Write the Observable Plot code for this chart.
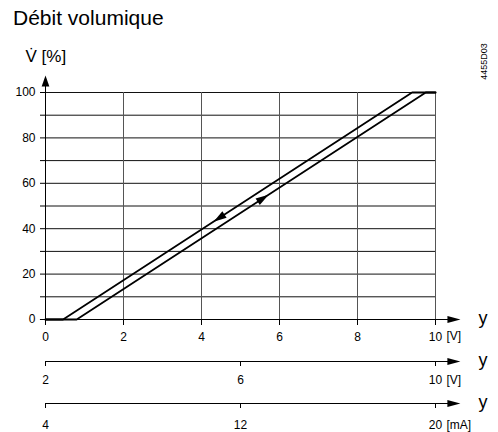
<!DOCTYPE html>
<html><head><meta charset="utf-8">
<script src="https://cdn.jsdelivr.net/npm/d3@7"></script>
<script src="https://cdn.jsdelivr.net/npm/@observablehq/plot@0.6"></script>
<style>
body{margin:0;background:#fff;font-family:"Liberation Sans",Arial,sans-serif;}
#wrap{position:relative;width:498px;height:432px;overflow:hidden;background:#fff;}
#title{position:absolute;left:13px;top:7px;font-size:21px;line-height:21px;color:#000;white-space:nowrap;}
.pl{position:absolute;left:0;}
</style></head><body>
<div id="wrap"><div id="title"></div></div>
<script>
// ---- texts
const titleText = "Débit volumique";
const yLabel = "V̇ [%]";
const docCode = "4455D03";
const axisName = "y";
// ---- main scale 0..10 V
const xTicks = [0, 2, 4, 6, 8, 10];
const xUnit = "[V]";
const yTicks = [0, 10, 20, 30, 40, 50, 60, 70, 80, 90, 100];
const yLabelTicks = [0, 20, 40, 60, 80, 100];
const vGrid = [2, 4, 6, 8, 10];
const hGrid = [10, 20, 30, 40, 50, 60, 70, 80, 90, 100];
// ---- hysteresis curves (signal in V, flow in %)
const openX = [0, 0.8, 9.75, 10];
const openY = [0, 0, 100, 100];
const closeX = [0, 0.45, 9.4, 10];
const closeY = [0, 0, 100, 100];
// ---- direction arrows on the curves
const arrowX = [5.72, 4.31];
const arrowY = [55, 43.1];
const arrowDeg = [-33, 147];
// ---- secondary scales
const v2Domain = [2, 10];
const v2Ticks = [2, 6, 10];
const v2Unit = "[V]";
const mADomain = [4, 20];
const mATicks = [4, 12, 20];
const mAUnit = "[mA]";
// ---- axis extents (arrow tips)
const mainXEnd = 10.64, v2End = 10.51, mAEnd = 21.02, yEnd = 107.5, yStart = -2.6, xStart = -0.13;

document.getElementById("title").textContent = titleText;

const font = '"Liberation Sans", Arial, sans-serif';
function arrowHead(deg, ratio = 0.55) {
  const a = deg * Math.PI / 180, c = Math.cos(a), s = Math.sin(a);
  return {draw(ctx, size) {
    const r = Math.sqrt(size / Math.PI), L = 2 * r, W = ratio * r;
    [[0, 0], [-L, -W], [-L, W]].forEach(([x, y], i) => {
      const X = x * c - y * s, Y = x * s + y * c;
      i ? ctx.lineTo(X, Y) : ctx.moveTo(X, Y);
    });
    ctx.closePath();
  }};
}
const pts = (xs, ys) => xs.map((x, i) => ({x, y: ys[i]}));

const main = Plot.plot({
  width: 498, height: 315,
  marginLeft: 45, marginRight: 63, marginTop: 62, marginBottom: 26,
  style: {fontFamily: font, fontSize: "12px", color: "#000", background: "transparent"},
  x: {domain: [0, 10]},
  y: {domain: [0, 100]},
  marks: [
    Plot.ruleY(hGrid, {x1: 0, x2: 10, stroke: "#111", strokeWidth: 1}),
    Plot.ruleX(vGrid, {y1: 0, y2: 100, stroke: "#555", strokeWidth: 1}),
    Plot.axisX({ticks: xTicks, tickSize: 6, tickPadding: 7, tickFormat: d => String(d), label: null}),
    Plot.axisY({ticks: yTicks, tickSize: 5, tickPadding: 5, tickFormat: d => yLabelTicks.includes(d) ? String(d) : "", label: null}),
    Plot.ruleY([0], {x1: xStart, x2: mainXEnd - 0.1, stroke: "#000"}),
    Plot.ruleX([0], {y1: yStart, y2: yEnd - 2, stroke: "#000"}),
    Plot.dot([{x: mainXEnd, y: 0}], {x: "x", y: "y", r: 6.5, symbol: arrowHead(0), fill: "#000", stroke: null}),
    Plot.dot([{x: 0, y: yEnd}], {x: "x", y: "y", r: 5.5, symbol: arrowHead(-90, 0.7), fill: "#000", stroke: null}),
    Plot.line(pts(openX, openY), {x: "x", y: "y", stroke: "#000", strokeWidth: 1.8}),
    Plot.line(pts(closeX, closeY), {x: "x", y: "y", stroke: "#000", strokeWidth: 1.8}),
    Plot.dot([0], {x: i => arrowX[0], y: i => arrowY[0], r: 6.5, symbol: arrowHead(arrowDeg[0], 0.6), fill: "#000", stroke: null}),
    Plot.dot([1], {x: i => arrowX[1], y: i => arrowY[1], r: 6.5, symbol: arrowHead(arrowDeg[1], 0.6), fill: "#000", stroke: null}),
    Plot.text([xUnit], {x: 10, y: 0, text: d => d, dx: 11, dy: 17, textAnchor: "start", lineAnchor: "middle", fontSize: 12}),
    Plot.text([axisName], {x: 10, y: 0, text: d => d, dx: 43, dy: -1, textAnchor: "start", lineAnchor: "middle", fontSize: 18}),
    Plot.text([yLabel], {frameAnchor: "top-left", text: d => d, dx: -20, dy: -36, textAnchor: "start", lineAnchor: "middle", fontSize: 17}),
    Plot.text([docCode], {frameAnchor: "top-right", text: d => d, dx: 49, dy: -31, rotate: -90, textAnchor: "middle", lineAnchor: "middle", fontSize: 9})
  ]
});
main.classList.add("pl");
main.style.top = "30px";
document.getElementById("wrap").appendChild(main);

function secondary(domain, ticks, end, unit, height, lineAt, padding, top) {
  const p = Plot.plot({
    width: 498, height,
    marginLeft: 45, marginRight: 63, marginTop: 0, marginBottom: height - lineAt,
    style: {fontFamily: font, fontSize: "12px", color: "#000", background: "transparent"},
    x: {domain},
    y: {domain: [0, 1], axis: null},
    marks: [
      Plot.ruleY([0], {x1: domain[0], x2: end - 0.1, stroke: "#000"}),
      Plot.dot([{x: end, y: 0}], {x: "x", y: "y", r: 6.5, symbol: arrowHead(0), fill: "#000", stroke: null}),
      Plot.axisX({ticks, tickSize: 5, tickPadding: padding, tickFormat: d => String(d), label: null}),
      Plot.text([unit], {x: domain[1], y: 0, text: d => d, dx: 11, dy: padding + 10, textAnchor: "start", lineAnchor: "middle", fontSize: 12}),
      Plot.text([axisName], {x: domain[1], y: 0, text: d => d, dx: 43, dy: -1, textAnchor: "start", lineAnchor: "middle", fontSize: 18})
    ]
  });
  p.classList.add("pl");
  p.style.top = top + "px";
  document.getElementById("wrap").appendChild(p);
}
secondary(v2Domain, v2Ticks, v2End, v2Unit, 45, 16, 9, 345);
secondary(mADomain, mATicks, mAEnd, mAUnit, 42, 13, 12, 390);
</script>
</body></html>
